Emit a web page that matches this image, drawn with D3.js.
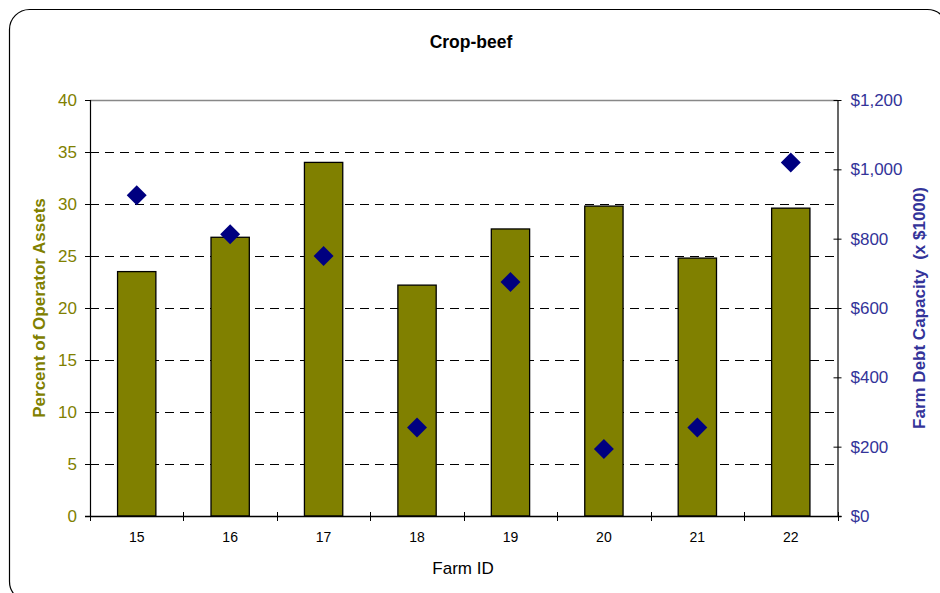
<!DOCTYPE html>
<html>
<head>
<meta charset="utf-8">
<script src="https://cdn.jsdelivr.net/npm/d3@7"></script>
<style>
  html, body { margin: 0; padding: 0; background: #fff; overflow: hidden; }
  svg { display: block; font-family: "Liberation Sans", Arial, sans-serif; }
</style>
</head>
<body>
<svg id="chart" width="940" height="593"></svg>
<script>
// Farm IDs along the x axis
const farmIds = ["15", "16", "17", "18", "19", "20", "21", "22"];
// Percent of operator assets (bars, left axis)
const percentAssets = [23.5, 26.8, 34.0, 22.2, 27.6, 29.8, 24.8, 29.6];
// Farm debt capacity in $1000 (diamonds, right axis)
const debtCapacity = [925, 813, 750, 255, 675, 193, 255, 1020];
// Axis ticks
const leftTicks = [0, 5, 10, 15, 20, 25, 30, 35, 40];
const rightTicks = [0, 200, 400, 600, 800, 1000, 1200];

const svg = d3.select("#chart");
const plot = { left: 90, right: 837.5, top: 100, bottom: 516 };

const olive = "#808000";
const navy = "#000080";
const rightText = "#333399";
const font = "Liberation Sans, Arial, sans-serif";

// Chart frame with rounded corners (runs past the right and bottom edges)
svg.append("rect")
  .attr("x", 9.5).attr("y", 9.5)
  .attr("width", 938).attr("height", 592)
  .attr("rx", 20).attr("ry", 20)
  .attr("fill", "#fff").attr("stroke", "#000").attr("stroke-width", 1.2);

const x = d3.scaleBand().domain(farmIds).range([plot.left, plot.right]).paddingInner(0).paddingOuter(0);
const yL = d3.scaleLinear().domain([0, 40]).range([plot.bottom, plot.top]);
const yR = d3.scaleLinear().domain([0, 1200]).range([plot.bottom, plot.top]);

// Horizontal gridlines
svg.append("g").selectAll("line").data(leftTicks.filter(d => d > 0)).join("line")
  .attr("x1", plot.left).attr("x2", plot.right)
  .attr("y1", d => Math.round(yL(d)) + 0.5).attr("y2", d => Math.round(yL(d)) + 0.5)
  .attr("stroke", d => d === 40 ? "#888" : "#000")
  .attr("stroke-width", d => d === 40 ? 1.5 : 1)
  .attr("stroke-dasharray", d => d === 40 ? null : "9,6");

// Bars
const barW = x.bandwidth() * 0.41;
svg.append("g").selectAll("rect").data(farmIds).join("rect")
  .attr("x", (d) => x(d) + (x.bandwidth() - barW) / 2)
  .attr("y", (d, i) => yL(percentAssets[i]))
  .attr("width", barW)
  .attr("height", (d, i) => plot.bottom - yL(percentAssets[i]))
  .attr("fill", olive).attr("stroke", "#000").attr("stroke-width", 1.3);

// Diamonds
const diamond = d3.symbol().type(d3.symbolSquare).size(200);
svg.append("g").selectAll("path").data(farmIds).join("path")
  .attr("d", diamond)
  .attr("transform", (d, i) => `translate(${x(d) + x.bandwidth() / 2},${yR(debtCapacity[i])}) rotate(45)`)
  .attr("fill", navy);

// Left axis
const leftAxis = d3.axisLeft(yL).tickValues(leftTicks).tickSize(5).tickPadding(8);
const gL = svg.append("g").attr("transform", `translate(${plot.left},0)`).call(leftAxis);
gL.select(".domain").attr("stroke", "#000").attr("stroke-width", 1.2);
gL.selectAll(".tick line").attr("stroke", "#000");
gL.selectAll(".tick text").attr("fill", olive).attr("font-size", 17)
  .attr("font-family", font);

// Right axis
const rightAxis = d3.axisRight(yR).tickValues(rightTicks).tickSizeInner(4).tickSizeOuter(0).tickPadding(9)
  .tickFormat(d => "$" + d3.format(",")(d));
const gR = svg.append("g").attr("transform", `translate(${plot.right},0)`).call(rightAxis);
gR.select(".domain").attr("stroke", "#000").attr("stroke-width", 1.2);
gR.selectAll(".tick line").attr("x1", -4).attr("stroke", "#000");
gR.selectAll(".tick text").attr("fill", rightText).attr("font-size", 17)
  .attr("font-family", font);

// Bottom axis: labels at category centres, ticks at category boundaries
svg.append("line")
  .attr("x1", plot.left - 5).attr("x2", plot.right + 4)
  .attr("y1", plot.bottom + 0.5).attr("y2", plot.bottom + 0.5)
  .attr("stroke", "#000").attr("stroke-width", 1.3);
const bounds = farmIds.map(d => x(d)).concat([plot.right]);
svg.append("g").selectAll("line").data(bounds).join("line")
  .attr("x1", d => Math.round(d) + 0.5).attr("x2", d => Math.round(d) + 0.5)
  .attr("y1", plot.bottom - 4).attr("y2", plot.bottom + 5)
  .attr("stroke", "#000");
svg.append("g").selectAll("text").data(farmIds).join("text")
  .attr("x", d => x(d) + x.bandwidth() / 2)
  .attr("y", plot.bottom + 26)
  .attr("text-anchor", "middle").attr("font-size", 14).attr("fill", "#000")
  .text(d => d);

// Titles
svg.append("text").attr("x", 471).attr("y", 48)
  .attr("text-anchor", "middle").attr("font-size", 17.5).attr("font-weight", "bold")
  .text("Crop-beef");
svg.append("text").attr("x", 463).attr("y", 574)
  .attr("text-anchor", "middle").attr("font-size", 17)
  .text("Farm ID");
svg.append("text")
  .attr("transform", `translate(45,${(plot.top + plot.bottom) / 2}) rotate(-90)`)
  .attr("text-anchor", "middle").attr("font-size", 17).attr("font-weight", "bold")
  .attr("fill", olive)
  .text("Percent of Operator Assets");
svg.append("text")
  .attr("transform", `translate(925,${(plot.top + plot.bottom) / 2}) rotate(-90)`)
  .attr("text-anchor", "middle").attr("font-size", 17).attr("font-weight", "bold")
  .attr("fill", rightText).attr("xml:space", "preserve")
  .text("Farm Debt Capacity  (x $1000)");
</script>
</body>
</html>
